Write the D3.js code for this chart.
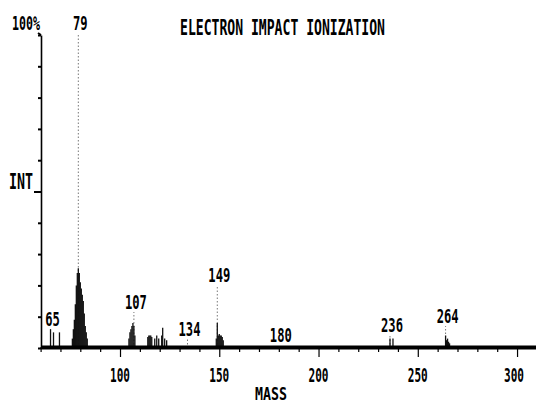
<!DOCTYPE html>
<html>
<head>
<meta charset="utf-8">
<script src="https://cdn.jsdelivr.net/npm/d3@7"></script>
<style>
  body { margin: 0; background: #fff; }
  svg text { font-family: "DejaVu Sans Mono", monospace; font-weight: bold; fill: #000; }
</style>
</head>
<body>
<div id="chart"></div>
<script>
// values
var tickMasses = [100, 150, 200, 250, 300];
var minorTicks = d3.range(60, 311, 10);

// labelled peaks and the height of their dotted centroid stick (%)
var peakLabels = [65, 79, 107, 134, 149, 180, 236, 264];
var peakHeights = [6, 100, 11.5, 3, 20, 1, 4, 7];

// profile bars (mass, % intensity)
var profileMass = [65, 66.5, 69.5,
  76, 76.5, 77, 77.5, 78, 78.5, 79, 79.5, 80, 80.5, 81, 81.5, 82, 82.5, 83, 83.5,
  104.5, 105, 105.5, 106, 106.5, 107, 107.5,
  114, 114.5, 115, 115.5, 116, 117.5, 118.5, 119.5, 121, 121.5, 122.5, 123.5,
  148.5, 149, 149.5, 150, 150.5, 151, 151.5, 152,
  236, 237.5,
  264, 264.5, 265, 265.5, 266];
var profileInt = [6, 5, 5,
  3, 6, 9, 14, 20, 24, 25.5, 24, 21, 19, 17, 15, 11, 7, 5, 3,
  3, 5, 6, 7, 8, 7, 4,
  3.5, 4, 4, 4, 3.5, 3, 4, 3, 4, 6.5, 3, 2.5,
  3, 8, 4, 4.5, 4, 4, 3.5, 2.5,
  3, 3,
  4, 2.5, 3, 2, 1.5];

var svgWidth = 536;
var svgHeight = 404;

var svg = d3.select("#chart")
  .append("svg")
  .attr("width", svgWidth)
  .attr("height", svgHeight);

var x = d3.scaleLinear().domain([60, 310]).range([40.6, 536.9]);
var y = d3.scaleLinear().domain([0, 100]).range([348, 35]);

// y axis with small tick dots every 10%
var yAxis = svg.append("g")
  .attr("transform", "translate(41,0)")
  .call(d3.axisLeft(y).tickValues(d3.range(0, 101, 10)).tickSize(3).tickSizeOuter(0).tickFormat(""));
yAxis.select(".domain").attr("stroke-width", 1.6);
yAxis.selectAll(".tick line").attr("stroke-width", 2);
yAxis.selectAll(".tick").filter(d => d === 50).select("line").attr("x2", -7);
yAxis.append("path")
  .attr("d", `M0,${y(100)} L-3,${y(100) - 2}`)
  .attr("stroke", "#000").attr("stroke-width", 2).attr("fill", "none");

// dotted centroid sticks
svg.selectAll(".stick")
  .data(peakLabels)
  .enter()
  .append("line")
  .attr("class", "stick")
  .attr("x1", d => x(d))
  .attr("x2", d => x(d))
  .attr("y1", y(0))
  .attr("y2", (d, i) => y(peakHeights[i]))
  .attr("stroke", "#777")
  .attr("stroke-width", 1)
  .attr("stroke-dasharray", "1.5,2");

// profile bars
svg.selectAll(".bar")
  .data(profileMass)
  .enter()
  .append("line")
  .attr("class", "bar")
  .attr("x1", d => x(d))
  .attr("x2", d => x(d))
  .attr("y1", y(0))
  .attr("y2", (d, i) => y(profileInt[i]))
  .attr("stroke", "#111")
  .attr("stroke-width", 1.3);

// x axis: thick baseline with ticks below
var xAxis = svg.append("g")
  .attr("transform", "translate(0,347)")
  .call(d3.axisBottom(x).tickValues(minorTicks).tickSize(5).tickSizeOuter(0).tickFormat(""));
xAxis.select(".domain").attr("stroke-width", 4);
xAxis.selectAll(".tick line").attr("stroke-width", 1.2);
xAxis.selectAll(".tick").filter(d => d % 50 === 0).select("line").attr("y2", 10);

// tick labels
svg.selectAll(".tickLabel")
  .data(tickMasses)
  .enter()
  .append("text")
  .attr("class", "tickLabel")
  .attr("x", d => Math.min(x(d), 514))
  .attr("y", 382)
  .attr("text-anchor", "middle")
  .attr("font-size", 19)
  .attr("textLength", 20)
  .attr("lengthAdjust", "spacingAndGlyphs")
  .text(d => d);

// peak labels
svg.selectAll(".peakLabel")
  .data(peakLabels)
  .enter()
  .append("text")
  .attr("class", "peakLabel")
  .attr("x", d => x(d) + 2)
  .attr("y", (d, i) => d === 79 ? 30 : y(peakHeights[i]) - 3)
  .attr("text-anchor", "middle")
  .attr("font-size", 20)
  .attr("textLength", d => String(d).length * 7.3)
  .attr("lengthAdjust", "spacingAndGlyphs")
  .text(d => d);

// texts
svg.append("text")
  .attr("x", 12).attr("y", 30)
  .attr("font-size", 20)
  .attr("textLength", 28)
  .attr("lengthAdjust", "spacingAndGlyphs")
  .text("100%");

svg.append("text")
  .attr("x", 180).attr("y", 35)
  .attr("font-size", 22)
  .attr("textLength", 205)
  .attr("lengthAdjust", "spacingAndGlyphs")
  .text("ELECTRON IMPACT IONIZATION");

svg.append("text")
  .attr("x", 9).attr("y", 189)
  .attr("font-size", 21)
  .attr("textLength", 24)
  .attr("lengthAdjust", "spacingAndGlyphs")
  .text("INT");

svg.append("text")
  .attr("x", 271).attr("y", 400)
  .attr("text-anchor", "middle")
  .attr("font-size", 18)
  .attr("textLength", 32)
  .attr("lengthAdjust", "spacingAndGlyphs")
  .text("MASS");
</script>
</body>
</html>
